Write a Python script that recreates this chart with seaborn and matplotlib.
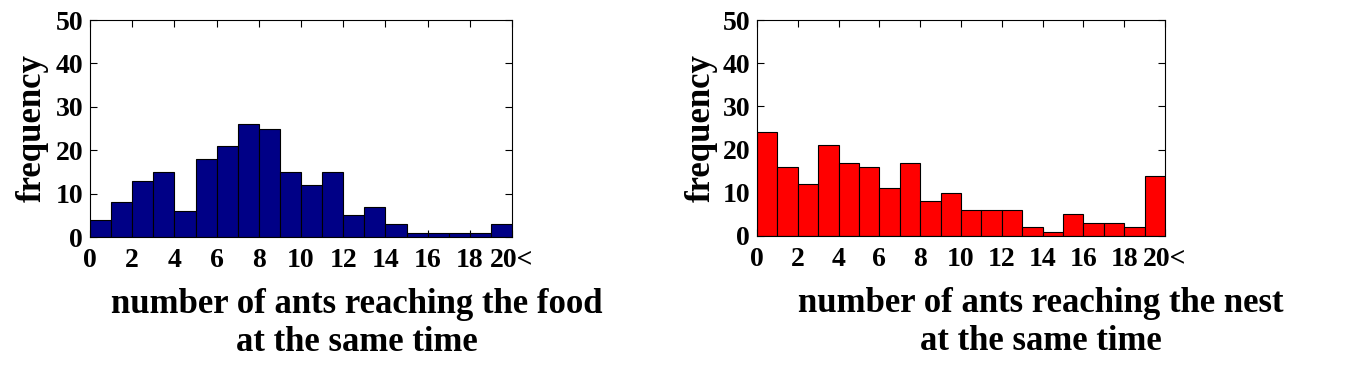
import numpy as np
import pandas as pd
import matplotlib
matplotlib.use('Agg')
import matplotlib.pyplot as plt
import seaborn as sns

# bin counts, one bin per number of ants (last bin = 20 or more)
bins_left = list(range(20))
food_counts = [4, 8, 13, 15, 6, 18, 21, 26, 25, 15, 12, 15, 5, 7, 3, 1, 1, 1, 1, 3]
nest_counts = [24, 16, 12, 21, 17, 16, 11, 17, 8, 10, 6, 6, 6, 2, 1, 5, 3, 3, 2, 14]
x_ticks = [0, 2, 4, 6, 8, 10, 12, 14, 16, 18, 20]
x_ticklabels = ['0', '2', '4', '6', '8', '10', '12', '14', '16', '18', '20<']
y_ticks = [0, 10, 20, 30, 40, 50]

sns.set_style('ticks')
plt.rcParams['font.family'] = ['Liberation Serif', 'DejaVu Serif']
plt.rcParams['font.weight'] = 'bold'
plt.rcParams['text.color'] = 'black'
plt.rcParams['axes.labelcolor'] = 'black'
plt.rcParams['xtick.color'] = 'black'
plt.rcParams['ytick.color'] = 'black'
plt.rcParams['axes.edgecolor'] = 'black'

fig = plt.figure(figsize=(13.64, 3.88), dpi=100)
ax1 = fig.add_axes([90 / 1364, 1 - 237 / 388, 422 / 1364, 217 / 388])
ax2 = fig.add_axes([757 / 1364, 1 - 236 / 388, 408 / 1364, 216 / 388])

df = pd.DataFrame({'n': [b + 0.5 for b in bins_left], 'food': food_counts, 'nest': nest_counts})

panels = [
    (ax1, 'food', '#000086', 'number of ants reaching the food\nat the same time', 0.633, -0.097),
    (ax2, 'nest', '#ff0000', 'number of ants reaching the nest\nat the same time', 0.696, -0.096),
]

for ax, col, color, xlabel, xl_x, yl_x in panels:
    sns.histplot(data=df, x='n', weights=col, bins=20, binrange=(0, 20), color=color,
                 alpha=1, edgecolor='black', linewidth=0.8, ax=ax)
    ax.set_xlim(0, 20)
    ax.set_ylim(0, 50)
    ax.set_xticks(x_ticks)
    ax.set_xticklabels(x_ticklabels)
    ax.set_yticks(y_ticks)
    ax.tick_params(direction='in', top=True, right=True, length=5, width=0.8,
                   labelsize=20, pad=5)
    ax.tick_params(axis='x', pad=8)
    for lab in ax.get_xticklabels() + ax.get_yticklabels():
        lab.set_fontweight('bold')
    for sp in ax.spines.values():
        sp.set_visible(True)
        sp.set_linewidth(0.8)
    ax.set_xlabel(xlabel, fontsize=25, fontweight='bold', linespacing=1.2)
    ax.xaxis.set_label_coords(xl_x, -0.237)
    ax.set_ylabel('frequency', fontsize=25, fontweight='bold')
    ax.yaxis.set_label_coords(yl_x, 0.5)

fig.savefig('out.png', dpi=100, facecolor='white')
